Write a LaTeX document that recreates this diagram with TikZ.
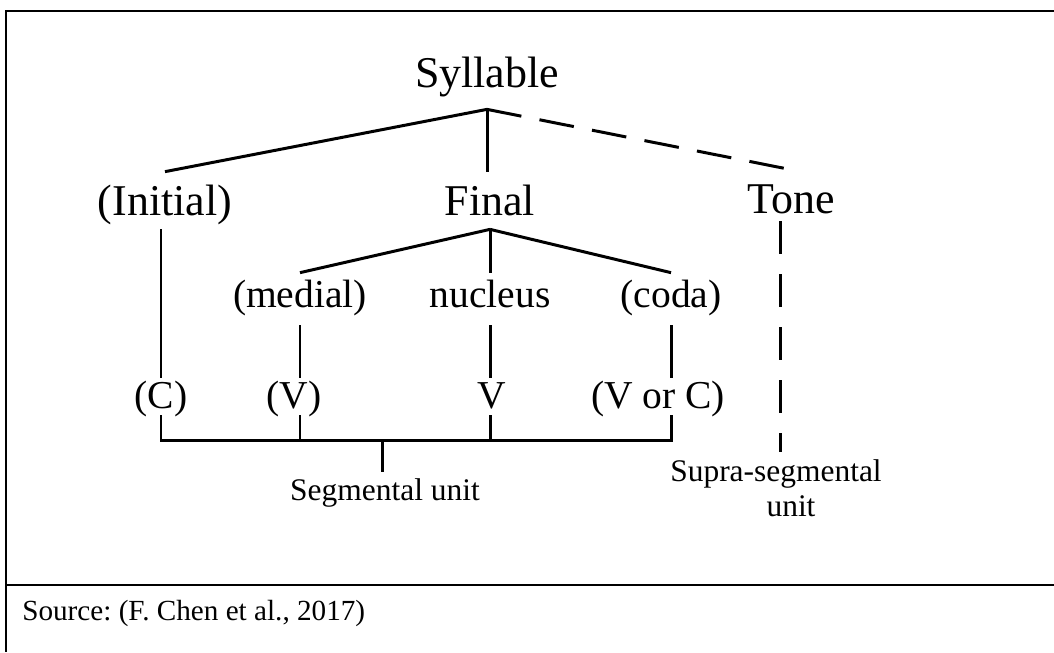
\documentclass[tikz,border=0pt]{standalone}
\usepackage{fontspec}
\setmainfont{Liberation Serif}
\usetikzlibrary{calc, positioning}
\frenchspacing

\begin{document}
\begin{tikzpicture}[
  lvltop/.style={anchor=base, inner sep=0pt, font=\fontsize{25}{30}\selectfont,
                 text depth=0.44cm},
  lvlone/.style={anchor=base, inner sep=0pt, font=\fontsize{25}{30}\selectfont,
                 text height=0.86cm, text depth=0.28cm},
  lvltwo/.style={anchor=base, inner sep=0pt, font=\fontsize{22.5}{27}\selectfont,
                 text height=0.68cm, text depth=0.36cm},
  lvlthree/.style={anchor=base, inner sep=0pt, font=\fontsize{22.5}{27}\selectfont,
                   text height=0.6cm, text depth=0.14cm},
  unitlbl/.style={inner sep=0pt, font=\fontsize{17.9}{20}\selectfont, align=center},
  tree/.style={line width=1.7pt},
  supra/.style={tree, dash pattern=on 0.7cm off 0.37cm},
  frame/.style={line width=1.2pt}]
  \useasboundingbox (0,0) rectangle (21.08,-13.04);
  % frame of the table
  \draw[frame] (21.08,-0.22) -- (0.12,-0.22) -- (0.12,-13.04);
  \draw[frame] (0.12,-11.70) -- (21.08,-11.70);
  \node[anchor=base west, inner sep=0pt, font=\fontsize{16.6}{20}\selectfont]
    (src) at (0.44,-12.40) {Source: (F. Chen et al., 2017)};
  % syllable and its parts
  \node[lvltop] (syl) at (9.74,-1.74) {Syllable};
  \node[lvlone] (ini) at (3.30,-4.30) {(Initial)};
  \node[lvlone] (fin) at (9.80,-4.30) {Final};
  \node[lvlone, text depth=0.16cm] (tone) at (15.82,-4.26) {Tone};
  \node[lvltwo] (med) at (6.00,-6.14) {(medial)};
  \node[lvltwo] (nuc) at (9.80,-6.14) {nucleus};
  \node[lvltwo] (coda) at (13.42,-6.14) {(coda)};
  \node[lvlthree] (c) at (3.22,-8.16) {(C)};
  \node[lvlthree] (v1) at (5.88,-8.16) {(V)};
  \node[lvlthree] (v2) at (9.84,-8.16) {V};
  \node[lvlthree] (vc) at (13.16,-8.16) {(V or C)};
  \node[unitlbl, anchor=base, text height=0.56cm] (seg) at (7.70,-10.00)
    {Segmental unit};
  \node[unitlbl, anchor=north, inner ysep=0.14cm] (sup) at (15.52,-9.04)
    {Supra-segmental\\\hspace*{0.6cm}unit};
  % branches
  \draw[tree] (syl.south) -- (ini.north);
  \draw[tree] (syl.south) -- (syl.south |- fin.north);
  \draw[supra] (syl.south) -- (tone.north);
  \draw[tree] (fin.south) -- (med.north);
  \draw[tree] (fin.south) -- (fin.south |- nuc.north);
  \draw[tree] (fin.south) -- (coda.north);
  \draw[tree] (ini.south -| c.north) -- (c.north);
  \draw[tree] (med.south) -- (med.south |- v1.north);
  \draw[tree] (nuc.south) -- (nuc.south |- v2.north);
  \draw[tree] (coda.south) -- (coda.south |- vc.north);
  \coordinate (tonefoot) at ([xshift=-0.22cm]tone.south);
  \draw[tree, dash pattern=on 0.66cm off 0.4cm] (tonefoot) -- (tonefoot |- sup.north);
  % bracket for the segmental unit
  \coordinate (brk) at (7.64,-8.80);
  \draw[tree] (c.south) |- (brk) -| (coda.south |- vc.south);
  \draw[tree] (med.south |- v1.south) -- (med.south |- brk);
  \draw[tree] (nuc.south |- v2.south) -- (nuc.south |- brk);
  \draw[tree] (brk) -- (brk |- seg.north);
\end{tikzpicture}
\end{document}
